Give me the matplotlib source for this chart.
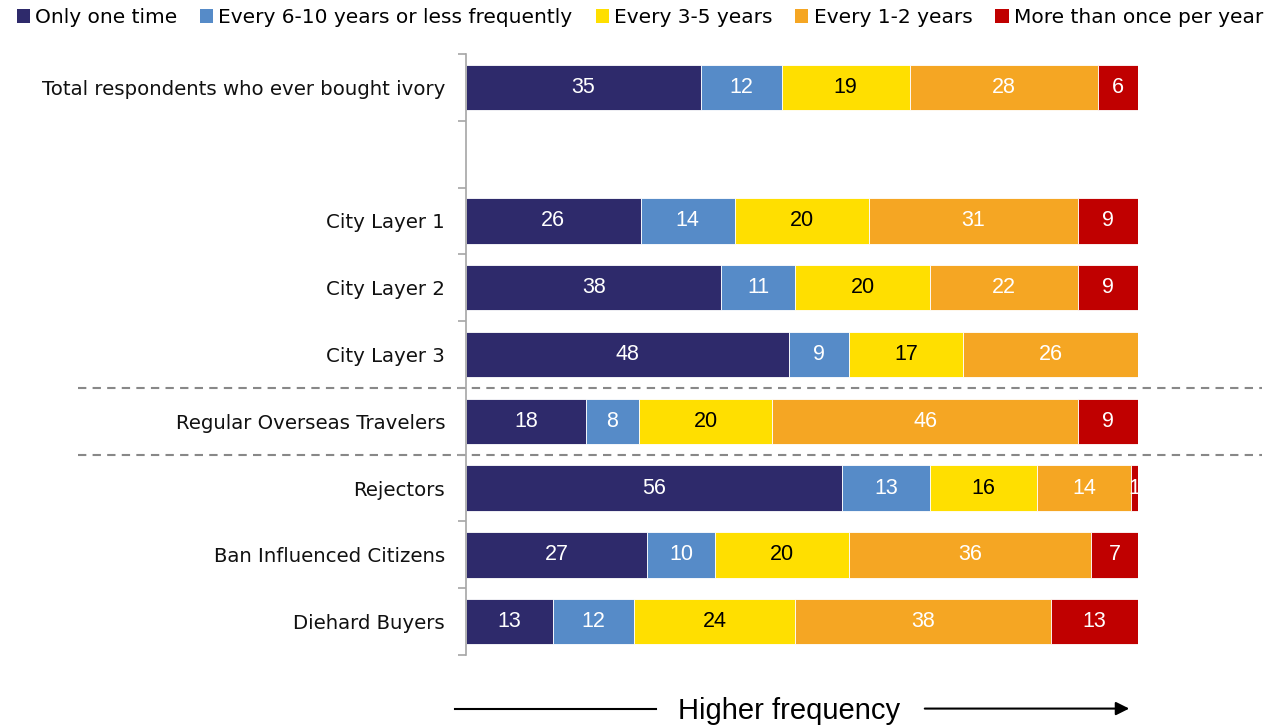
import numpy as np
import matplotlib
matplotlib.use("Agg")
import matplotlib.pyplot as plt
from matplotlib.patches import Patch
from matplotlib.ticker import FixedLocator

plt.rcParams['font.family'] = ['DejaVu Sans']

# rows, top to bottom ("" is the empty spacer row)
categories = ["Total respondents who ever bought ivory", "",
              "City Layer 1", "City Layer 2", "City Layer 3",
              "Regular Overseas Travelers",
              "Rejectors", "Ban Influenced Citizens", "Diehard Buyers"]

series_names = ["Only one time", "Every 6-10 years or less frequently",
                "Every 3-5 years", "Every 1-2 years", "More than once per year"]

only_once   = [35, 0, 26, 38, 48, 18, 56, 27, 13]
every_6_10  = [12, 0, 14, 11, 9, 8, 13, 10, 12]
every_3_5   = [19, 0, 20, 20, 17, 20, 16, 20, 24]
every_1_2   = [28, 0, 31, 22, 26, 46, 14, 36, 38]
more_once   = [6, 0, 9, 9, 0, 9, 1, 7, 13]

colors = ["#2E2A6B", "#568BC8", "#FFDF00", "#F5A623", "#C00000"]
text_colors = ["white", "white", "black", "white", "white"]

data = np.array([only_once, every_6_10, every_3_5, every_1_2, more_once], dtype=float)
totals = data.sum(axis=0)
totals[totals == 0] = 1
shares = data / totals * 100

fig = plt.figure(figsize=(12.83, 7.26), dpi=100)
ax = fig.add_axes([466 / 1283, 1 - 655 / 726, (1138 - 466) / 1283, (655 - 54) / 726])

y = np.arange(len(categories))
left = np.zeros(len(categories))
for i in range(len(series_names)):
    bars = ax.barh(y, shares[i], left=left, height=0.68, color=colors[i],
                   edgecolor="white", linewidth=0.6, label=series_names[i])
    for j, b in enumerate(bars):
        if data[i, j] > 0:
            ax.text(left[j] + shares[i, j] / 2, y[j], "%d" % data[i, j],
                    ha="center", va="center", color=text_colors[i], fontsize=15.5,
                    family="Liberation Sans")
    left += shares[i]

ax.set_xlim(0, 100)
ax.set_ylim(len(categories) - 0.5, -0.5)
ax.set_yticks(y)
ax.set_yticklabels(categories, fontsize=14.2, color="#111111")
ax.yaxis.set_minor_locator(FixedLocator(np.arange(-0.5, len(categories), 1.0)))
ax.tick_params(axis="y", which="major", length=0, pad=15)
ax.tick_params(axis="y", which="minor", length=6, color="#A6A6A6", width=1.2)
ax.set_xticks([])
for s in ["top", "right", "bottom"]:
    ax.spines[s].set_visible(False)
ax.spines["left"].set_color("#A6A6A6")
ax.spines["left"].set_linewidth(1.2)

# dashed separators between groups
trans = matplotlib.transforms.blended_transform_factory(fig.transFigure, ax.transData)
for yb in [4.5, 5.5]:
    ax.plot([78 / 1283, 1262 / 1283], [yb, yb], transform=trans, color="#888888",
            linestyle=(0, (4, 3)), linewidth=1.5, clip_on=False, zorder=0)

# legend at top
handles = [Patch(facecolor=c, edgecolor="none") for c in colors]
fig.legend(handles, series_names, loc="upper left", bbox_to_anchor=(0.002, 1.008), ncol=5,
           frameon=False, fontsize=14.5, handlelength=0.65, handleheight=0.65,
           handletextpad=0.25, columnspacing=1.15, borderaxespad=0.3)

# bottom arrow caption
fig.text(0.615, 0.02, "Higher frequency", ha="center", va="center", fontsize=21,
         family="Liberation Sans")
fig.add_artist(plt.Line2D([455 / 1283, 656 / 1283], [0.024, 0.024], color="black", linewidth=1.5))
ax.annotate("", xy=(1132 / 1283, 0.024), xytext=(922 / 1283, 0.024),
            xycoords="figure fraction", textcoords="figure fraction",
            arrowprops=dict(arrowstyle="-|>", color="black", lw=1.5, mutation_scale=20))

fig.savefig("out.png", dpi=100)
